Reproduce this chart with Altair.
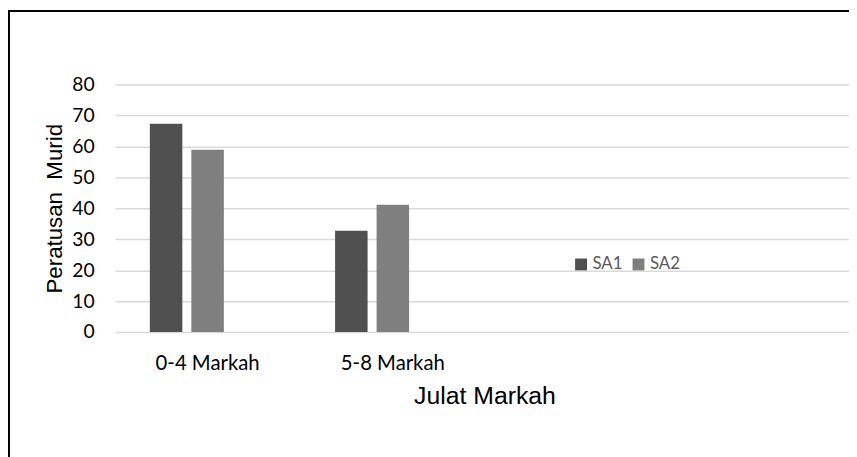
import altair as alt
import pandas as pd

categories = ["0-4 Markah", "5-8 Markah", " ", "  "]
series = ["SA1", "SA2"]
offset_slots = ["SA1", "SA2", "SA3"]
sa1_values = [67.3, 32.7]
sa2_values = [58.9, 41.1]
y_ticks = [0, 10, 20, 30, 40, 50, 60, 70, 80]
bar_colors = ["#505050", "#7f7f7f"]

rows = []
for cat, v in zip(categories[:2], sa1_values):
    rows.append({"cat": cat, "series": "SA1", "value": v})
for cat, v in zip(categories[:2], sa2_values):
    rows.append({"cat": cat, "series": "SA2", "value": v})
df = pd.DataFrame(rows)

W, H = 741, 250

bars = alt.Chart(df).mark_bar().encode(
    x=alt.X(
        "cat:N",
        scale=alt.Scale(domain=categories, range=[0, 748], paddingInner=0, paddingOuter=0),
        sort=categories,
        axis=alt.Axis(
            title="Julat Markah",
            titleFont="Liberation Sans",
            titleFontSize=25,
            titleFontWeight="normal",
            titleColor="#000000",
            titleX=373,
            titleY=72,
            titleAlign="center",
            titleBaseline="alphabetic",
            labelFont="Lato",
            labelFontSize=20.5,
            labelColor="#000000",
            labelAngle=0,
            labelBaseline="alphabetic",
            labelPadding=38,
            ticks=False,
            tickSize=0,
            domain=False,
            grid=False,
        ),
    ),
    xOffset=alt.XOffset(
        "series:N",
        scale=alt.Scale(domain=offset_slots, paddingInner=0.217, paddingOuter=0.84),
    ),
    y=alt.Y(
        "value:Q",
        scale=alt.Scale(domain=[0, 80], nice=False),
        axis=alt.Axis(
            title="Peratusan\u00a0\u00a0Murid",
            titleFont="Liberation Sans",
            titleFontSize=22.5,
            titleFontWeight="normal",
            titleColor="#000000",
            titleAngle=-90,
            titleX=-54,
            titleY=125,
            titleAlign="center",
            titleBaseline="alphabetic",
            values=y_ticks,
            labelFont="Lato",
            labelFontSize=19.5,
            labelColor="#000000",
            labelPadding=21,
            ticks=False,
            tickSize=0,
            domain=False,
            grid=True,
            gridColor="#d9d9d9",
            gridWidth=1.5,
        ),
    ),
    color=alt.Color(
        "series:N",
        scale=alt.Scale(domain=series, range=bar_colors),
        legend=alt.Legend(
            title=None,
            orient="none",
            legendX=462,
            legendY=173,
            direction="horizontal",
            symbolType="square",
            symbolSize=144,
            symbolStrokeWidth=0,
            labelFont="Lato",
            labelFontSize=17,
            labelColor="#595959",
            labelOffset=3,
            columnPadding=7,
        ),
    ),
)

frame = alt.Chart(pd.DataFrame({"f": [0]})).mark_rect(
    fillOpacity=0, stroke="#000000", strokeWidth=2
).encode(
    x=alt.value(-107),
    x2=alt.value(W + 40),
    y=alt.value(-74),
    y2=alt.value(H + 200),
)

chart = alt.layer(bars, frame).properties(
    width=W,
    height=H,
    autosize=alt.AutoSizeParams(type="none"),
    padding={"left": 108, "top": 75, "right": 0, "bottom": 124},
).configure_view(strokeWidth=0)

chart.save("out.html", embed_options={"renderer": "svg", "actions": False})
